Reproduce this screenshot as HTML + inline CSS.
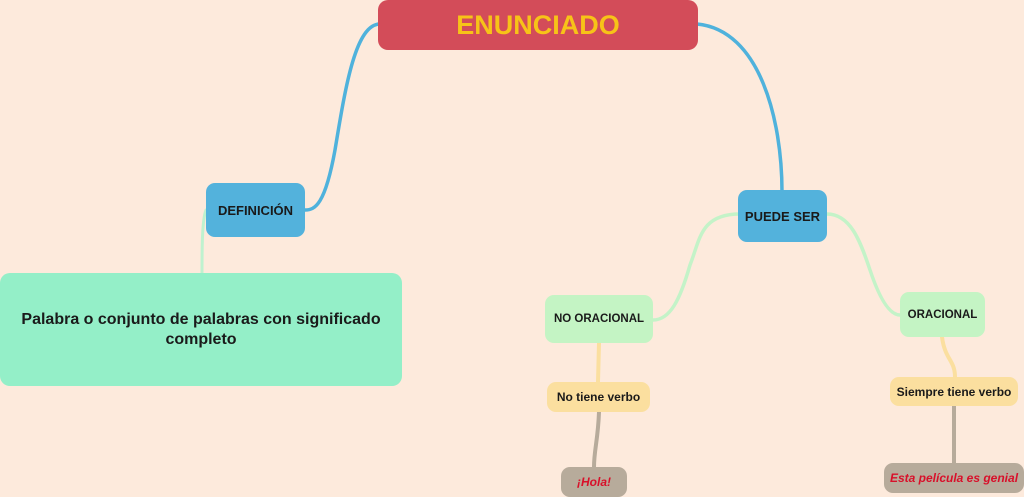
<!DOCTYPE html>
<html><head><meta charset="utf-8"><style>
body{margin:0;width:1024px;height:497px;background:#fdeadc;position:relative;overflow:hidden;font-family:"Liberation Sans",sans-serif;font-weight:bold}
.n{position:absolute;display:flex;align-items:center;justify-content:center;text-align:center;box-sizing:border-box;color:#1a1a1a}
svg{position:absolute;left:0;top:0}
</style></head><body>
<svg width="1024" height="497" fill="none" stroke-linecap="round">
<path d="M380 24 C355 24 345 90 335 150 C325 205 315 210 305 210" stroke="#4fb2dc" stroke-width="3.5"/>
<path d="M697 24 C760 30 782 120 782 192" stroke="#4fb2dc" stroke-width="3.5"/>
<path d="M206 210 C202 220 202 250 202 274" stroke="#bff2cf" stroke-width="3"/>
<path d="M740 214 C700 214 700 240 690 265 C680 300 670 320 653 320" stroke="#c4f3c8" stroke-width="3.5"/>
<path d="M827 214 C850 214 860 240 870 270 C880 300 890 315 900 315" stroke="#c4f3c8" stroke-width="3.5"/>
<path d="M599 343 L598 382" stroke="#fbdf9f" stroke-width="4"/>
<path d="M942 337 C945 360 955 360 955 377" stroke="#fbdf9f" stroke-width="4"/>
<path d="M599 412 C598 440 594 450 594 467" stroke="#b7ab9b" stroke-width="4"/>
<path d="M954 406 L954 463" stroke="#b7ab9b" stroke-width="4"/>
</svg>
<div class="n" style="left:378px;top:0;width:320px;height:50px;background:#d34c59;border-radius:10px;color:#f7c318;font-size:27px">ENUNCIADO</div>
<div class="n" style="left:206px;top:183px;width:99px;height:54px;background:#53b2dc;border-radius:9px;font-size:13px">DEFINICIÓN</div>
<div class="n" style="left:738px;top:190px;width:89px;height:52px;background:#53b2dc;border-radius:9px;font-size:13px">PUEDE SER</div>
<div class="n" style="left:0;top:273px;width:402px;height:113px;background:#94efc8;border-radius:10px;font-size:16px;padding:0 10px;line-height:20px">Palabra o conjunto de palabras con significado completo</div>
<div class="n" style="left:545px;top:295px;width:108px;height:48px;background:#c4f4c4;border-radius:9px;font-size:11.5px">NO ORACIONAL</div>
<div class="n" style="left:900px;top:292px;width:85px;height:45px;background:#c4f4c4;border-radius:9px;font-size:11.5px">ORACIONAL</div>
<div class="n" style="left:547px;top:382px;width:103px;height:30px;background:#fbdf9f;border-radius:9px;font-size:12px">No tiene verbo</div>
<div class="n" style="left:890px;top:377px;width:128px;height:29px;background:#fbdf9f;border-radius:9px;font-size:12px">Siempre tiene verbo</div>
<div class="n" style="left:561px;top:467px;width:66px;height:30px;background:#b7ab9b;border-radius:9px;font-size:12px;color:#d8102a;font-style:italic">¡Hola!</div>
<div class="n" style="left:884px;top:463px;width:140px;height:30px;background:#b7ab9b;border-radius:9px;font-size:12px;color:#d8102a;font-style:italic">Esta película es genial</div>
</body></html>
